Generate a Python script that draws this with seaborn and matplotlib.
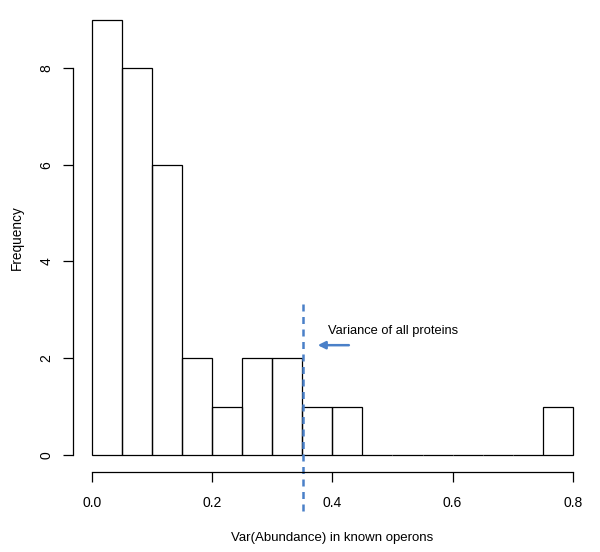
import numpy as np
import matplotlib.pyplot as plt
import seaborn as sns

bin_edges = [0.0, 0.05, 0.10, 0.15, 0.20, 0.25, 0.30, 0.35, 0.40, 0.45,
             0.50, 0.55, 0.60, 0.65, 0.70, 0.75, 0.80]
counts = [9, 8, 6, 2, 1, 2, 2, 1, 1, 0, 0, 0, 0, 0, 0, 1]
all_protein_var = 0.351

mids = [(a + b) / 2 for a, b in zip(bin_edges[:-1], bin_edges[1:])]

sns.set_style("white")
plt.rcParams["font.family"] = ["Liberation Sans", "DejaVu Sans"]
plt.rcParams["text.color"] = "black"
plt.rcParams["axes.labelcolor"] = "black"
plt.rcParams["xtick.color"] = "black"
plt.rcParams["ytick.color"] = "black"

fig = plt.figure(figsize=(6, 5.52), dpi=100)
ax = fig.add_axes([0.1213, 0.1442, 0.8654, 0.8518])

sns.histplot(x=mids, weights=counts, bins=bin_edges, ax=ax,
             stat="count", fill=False, element="bars",
             edgecolor="black", linewidth=0.9)
for p in ax.patches:
    p.set_edgecolor("black")
    p.set_linewidth(0.9)

ax.set_xlim(-0.032, 0.832)
ax.set_ylim(-0.36, 9.36)

for s in ["top", "right"]:
    ax.spines[s].set_visible(False)
ax.spines["left"].set_bounds(0, 8)
ax.spines["bottom"].set_bounds(0, 0.8)
for s in ["left", "bottom"]:
    ax.spines[s].set_color("black")
    ax.spines[s].set_linewidth(0.9)

ax.set_xticks([0.0, 0.2, 0.4, 0.6, 0.8])
ax.set_xticklabels(["0.0", "0.2", "0.4", "0.6", "0.8"])
ax.set_yticks([0, 2, 4, 6, 8])
ax.tick_params(axis="both", direction="out", length=7, width=0.9,
               color="black", labelcolor="black", labelsize=10,
               left=True, bottom=True)
ax.tick_params(axis="x", pad=10)
ax.tick_params(axis="y", pad=7)
for lab in ax.get_yticklabels():
    lab.set_rotation(90)
    lab.set_va("center")

ax.set_xlabel("Var(Abundance) in known operons", fontsize=9.5, labelpad=16,
              color="black")
ax.set_ylabel("Frequency", fontsize=9.8, labelpad=11, color="black")

blue = "#4a80c8"
ax.plot([all_protein_var, all_protein_var], [-1.16, 3.14], color=blue,
        linestyle=(0, (2.8, 2.2)), linewidth=1.8, clip_on=False)
ax.annotate("", xy=(0.371, 2.27), xytext=(0.432, 2.27),
            arrowprops=dict(arrowstyle="-|>", color=blue, lw=1.8,
                            mutation_scale=11))
ax.text(0.3925, 2.56, "Variance of all proteins", fontsize=9.3,
        ha="left", va="center", color="black")

fig.savefig("out.png", dpi=100)
